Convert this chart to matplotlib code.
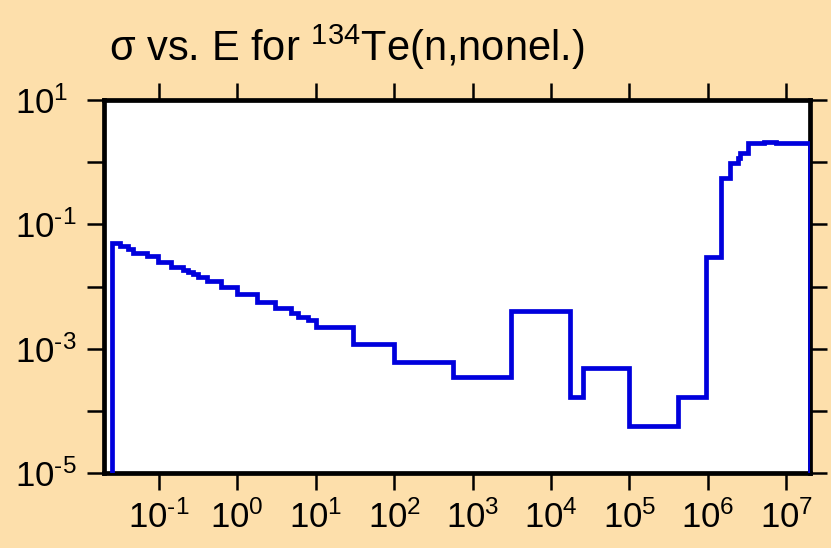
import matplotlib
matplotlib.use('Agg')
import matplotlib.pyplot as plt
import matplotlib.ticker as ticker
import numpy as np

plt.rcParams['font.family'] = ['Liberation Sans', 'DejaVu Sans']
plt.rcParams['mathtext.fontset'] = 'custom'
plt.rcParams['mathtext.rm'] = 'Liberation Sans'
plt.rcParams['mathtext.it'] = 'Liberation Sans'

# energy group boundaries (eV) and cross sections (b)
edges = [0.0253, 0.0318, 0.040, 0.0466, 0.0697, 0.097, 0.145, 0.203, 0.234, 0.272,
         0.315, 0.406, 0.614, 1.0, 1.77, 3.03, 4.8, 6.0, 8.06, 10.0, 30.0, 100.0,
         557.0, 3100.0, 17400.0, 25500.0, 1.0e5, 4.1e5, 9.4e5, 1.46e6, 1.92e6,
         2.43e6, 2.6e6, 3.2e6, 5.2e6, 7.4e6, 2.0e7]
xs = [0.0507, 0.0453, 0.0401, 0.035, 0.031, 0.025, 0.0208, 0.0185, 0.0171, 0.0159,
      0.0144, 0.0123, 0.0099, 0.0075, 0.0057, 0.00447, 0.0038, 0.00327, 0.00289,
      0.00224, 0.00119, 6.0e-4, 3.55e-4, 4.0e-3, 1.65e-4, 4.95e-4, 5.7e-5, 1.7e-4,
      0.030, 0.55, 0.96, 1.15, 1.42, 2.0, 2.14, 2.06]

x_exps = list(range(-1, 8))
y_exps = list(range(-5, 2))

bg = '#fddfab'
fig = plt.figure(figsize=(8.31, 5.48), dpi=100, facecolor=bg)
ax = fig.add_axes([104 / 831, 75 / 548, 706 / 831, 373 / 548])
ax.set_facecolor('white')

ax.stairs(xs, edges, baseline=1e-7, color='#0000dd', lw=3.4, fill=False, zorder=3)

ax.set_xscale('log')
ax.set_yscale('log')
ax.set_xlim(0.02, 2.0e7)
ax.set_ylim(1e-5, 10)

def pow10(e):
    if e < 0:
        return r'$\mathregular{10^{\text{-}%d}}$' % -e
    return r'$\mathregular{10^{%d}}$' % e

ax.set_xticks([10.0 ** e for e in x_exps], [pow10(e) for e in x_exps])
ax.set_yticks([10.0 ** e for e in y_exps], [pow10(e) if e % 2 else '' for e in y_exps])
ax.xaxis.set_minor_locator(ticker.NullLocator())
ax.yaxis.set_minor_locator(ticker.NullLocator())

ax.tick_params(which='major', direction='out', length=12, width=1.8,
               top=True, right=True, labelsize=25)
ax.tick_params(axis='x', pad=8)
ax.tick_params(axis='y', pad=52)
for lbl in ax.get_yticklabels():
    lbl.set_horizontalalignment('left')
for s in ax.spines.values():
    s.set_linewidth(3.4)

fig.text(109 / 831, 1 - 61 / 548, r'σ vs. E for $\mathregular{^{134}}$Te(n,nonel.)',
         fontsize=30, ha='left', va='baseline')

fig.savefig('out.png', dpi=100, facecolor=bg)
